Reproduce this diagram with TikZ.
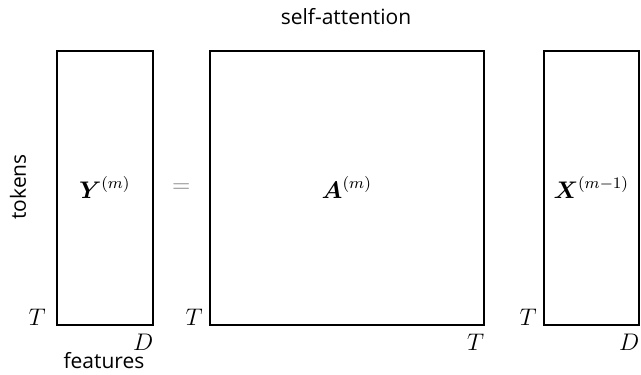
\documentclass[tikz,border=0pt]{standalone}
\usepackage{amsmath, amssymb}
\usepackage{fontspec}
\newfontfamily\labelfont{Open Sans}
\usepackage{tikz}
\usetikzlibrary{positioning, calc}

\begin{document}
\begin{tikzpicture}[x=0.5pt, y=-0.5pt,
  matbox/.style={draw, line width=0.8pt, anchor=north west, inner sep=0pt, font=\fontsize{11.5}{13}\selectfont},
  dimlab/.style={inner sep=0pt, font=\fontsize{11.5}{13}\selectfont},
  axislab/.style={font=\labelfont\fontsize{10.5}{12}\selectfont}]
\useasboundingbox (0,0) rectangle (641,374);
% the three matrices
\node[matbox, minimum width=48pt, minimum height=137pt] (Y) at (56,50) {$\boldsymbol{Y}^{(m)}$};
\node[matbox, minimum width=137pt, minimum height=137pt] (A) at (209,50) {$\boldsymbol{A}^{(m)}$};
\node[matbox, minimum width=47.5pt, minimum height=137pt] (X) at (543,50) {$\boldsymbol{X}^{(m-1)}$};
\node[text=gray, font=\fontsize{11.5}{13}\selectfont] (eq) at ($(Y.east)!0.5!(A.west)$) {$=$};
% dimensions
\node[dimlab, anchor=south east, xshift=-5pt] (Yt) at (Y.south west) {$T$};
\node[dimlab, anchor=north east, yshift=-4pt] (Yd) at (Y.south east) {$D$};
\node[dimlab, anchor=south east, xshift=-3pt] (At) at (A.south west) {$T$};
\node[dimlab, anchor=north east, yshift=-4pt] (Ad) at (A.south east) {$T$};
\node[dimlab, anchor=south east, xshift=-3pt] (Xt) at (X.south west) {$T$};
\node[dimlab, anchor=north east, yshift=-4pt] (Xd) at (X.south east) {$D$};
% axis names
\node[axislab] (title) at (346,17) {self-attention};
\node[axislab, rotate=90] (tokens) at (18,187) {tokens};
\node[axislab] (features) at (104,361) {features};
\end{tikzpicture}
\end{document}
